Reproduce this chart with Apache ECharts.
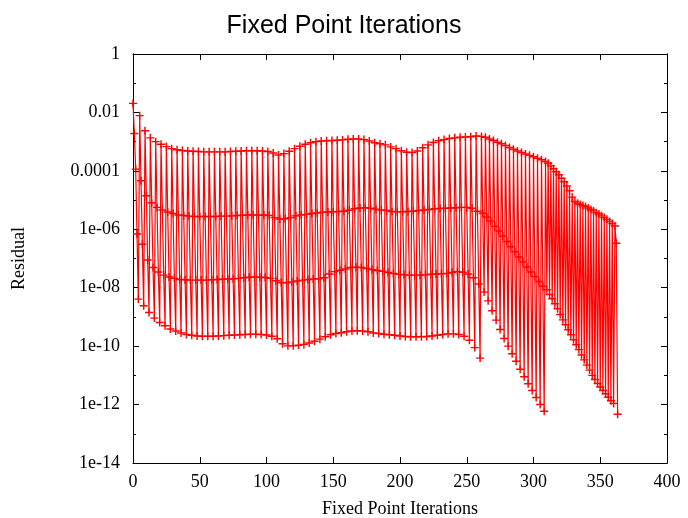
<!DOCTYPE html>
<html>
<head>
<meta charset="utf-8">
<script src="https://cdn.jsdelivr.net/npm/echarts@6/dist/echarts.min.js"></script>
<style>
  html, body { margin: 0; padding: 0; background: #fff; }
  #chart { width: 688px; height: 518px; }
</style>
</head>
<body>
<div id="chart"></div>
<script>
  // residuals stored as log10 values
  const firstBlock = [-1.69, -2.72, -3.94, -6.16, -8.39]

  // blocks of 4 iterations, starting at x = 5, 9, ..., 257
  const top4 = [
    -2.11, -2.63, -2.87, -3.00, -3.09, -3.17, -3.24, -3.28,
    -3.30, -3.32, -3.33, -3.34, -3.35, -3.35, -3.35, -3.35,
    -3.35, -3.34, -3.33, -3.32, -3.31, -3.31, -3.31, -3.32,
    -3.34, -3.39, -3.46, -3.41, -3.33, -3.24, -3.16, -3.09,
    -3.04, -3.00, -2.98, -2.97, -2.96, -2.95, -2.94, -2.92,
    -2.91, -2.91, -2.93, -2.98, -3.04, -3.07, -3.11, -3.18,
    -3.24, -3.31, -3.36, -3.37, -3.32, -3.21, -3.11, -3.03,
    -2.97, -2.93, -2.89, -2.87, -2.85, -2.84, -2.83, -2.81
  ]
  const second4 = [
    -4.34, -4.85, -5.09, -5.25, -5.34, -5.41, -5.46, -5.51,
    -5.53, -5.55, -5.56, -5.56, -5.56, -5.56, -5.56, -5.55,
    -5.55, -5.54, -5.53, -5.52, -5.51, -5.51, -5.51, -5.51,
    -5.53, -5.60, -5.65, -5.64, -5.60, -5.54, -5.51, -5.49,
    -5.46, -5.44, -5.42, -5.41, -5.40, -5.39, -5.38, -5.35,
    -5.30, -5.27, -5.26, -5.28, -5.31, -5.34, -5.36, -5.39,
    -5.40, -5.40, -5.39, -5.38, -5.36, -5.34, -5.32, -5.30,
    -5.29, -5.28, -5.27, -5.26, -5.25, -5.25, -5.28, -5.38
  ]
  const third4 = [
    -6.51, -7.05, -7.31, -7.46, -7.57, -7.63, -7.68, -7.72,
    -7.73, -7.74, -7.74, -7.74, -7.74, -7.73, -7.72, -7.71,
    -7.70, -7.69, -7.68, -7.66, -7.64, -7.63, -7.64, -7.65,
    -7.68, -7.76, -7.82, -7.83, -7.80, -7.77, -7.74, -7.72,
    -7.70, -7.69, -7.66, -7.53, -7.45, -7.40, -7.36, -7.31,
    -7.30, -7.31, -7.34, -7.38, -7.41, -7.44, -7.48, -7.51,
    -7.54, -7.56, -7.57, -7.57, -7.57, -7.56, -7.54, -7.53,
    -7.52, -7.51, -7.48, -7.45, -7.47, -7.53, -7.66, -7.87
  ]
  const last4 = [
    -8.62, -8.85, -9.04, -9.19, -9.30, -9.41, -9.48, -9.55,
    -9.60, -9.63, -9.65, -9.66, -9.66, -9.66, -9.65, -9.64,
    -9.63, -9.62, -9.61, -9.60, -9.59, -9.59, -9.60, -9.62,
    -9.66, -9.75, -9.92, -9.99, -9.99, -9.97, -9.94, -9.89,
    -9.83, -9.76, -9.68, -9.61, -9.57, -9.54, -9.51, -9.48,
    -9.47, -9.48, -9.51, -9.55, -9.57, -9.59, -9.61, -9.63,
    -9.65, -9.67, -9.68, -9.68, -9.68, -9.67, -9.65, -9.63,
    -9.60, -9.58, -9.58, -9.60, -9.66, -9.80, -10.05, -10.41
  ]

  // blocks of 3 iterations
  const top3 = [-2.82, -2.85, -2.91, -2.96, -3.02, -3.07, -3.13, -3.20,
    -3.26, -3.32, -3.37, -3.42, -3.47, -3.52, -3.57, -3.62]
  const second3 = [-5.45, -5.58, -5.72, -5.90, -6.06, -6.24, -6.42, -6.60,
    -6.77, -6.95, -7.12, -7.29, -7.46, -7.62, -7.79, -7.95]
  const last3 = [-8.15, -8.45, -8.79, -9.11, -9.43, -9.74, -10.00, -10.26,
    -10.52, -10.79, -11.05, -11.29, -11.52, -11.76, -12.00, -12.23]

  // blocks of 2 iterations
  const top2 = [-3.68, -3.74, -3.83, -3.93, -4.03, -4.13, -4.25, -4.37,
    -4.52, -4.68, -4.90, -5.05, -5.11, -5.15, -5.19, -5.22, -5.27, -5.32,
    -5.37, -5.43, -5.48, -5.54, -5.60, -5.66, -5.73, -5.80]
  const last2 = [-8.07, -8.23, -8.38, -8.55, -8.72, -8.92, -9.10, -9.27,
    -9.44, -9.61, -9.78, -9.95, -10.12, -10.30, -10.47, -10.65, -10.82, -11.00,
    -11.14, -11.28, -11.40, -11.52, -11.63, -11.75, -11.87, -11.96]

  const finalBlock = [-5.89, -6.48, -12.33]

  const yTickLabels = ['1e-14', '1e-12', '1e-10', '1e-08', '1e-06', '0.0001', '0.01', '1']

  // lay the iterations out one after another
  const blocks = [firstBlock]
  top4.forEach((v, i) => blocks.push([v, second4[i], third4[i], last4[i]]))
  top3.forEach((v, i) => blocks.push([v, second3[i], last3[i]]))
  top2.forEach((v, i) => blocks.push([v, last2[i]]))
  blocks.push(finalBlock)

  const points = []
  let it = 0
  blocks.forEach(b => {
    b.forEach(e => {
      points.push([it, Math.pow(10, e)])
      it++
    })
  })

  const plus = 'path://M0,4.1H4.1V0H5.9V4.1H10V5.9H5.9V10H4.1V5.9H0Z'
  const serif = '"Liberation Serif", "DejaVu Serif", serif'

  const logAxis = (pos, step, len, labels) => ({
    type: 'log',
    logBase: 10,
    position: pos,
    min: 1e-14,
    max: 1,
    interval: step,
    axisLine: { show: true, onZero: false, lineStyle: { color: '#000', width: 1 } },
    axisTick: { show: true, inside: true, length: len, lineStyle: { color: '#000' } },
    axisLabel: {
      show: labels,
      color: '#000',
      fontFamily: serif,
      fontSize: 18,
      margin: 13,
      formatter: v => yTickLabels[Math.round(Math.log10(v)) / 2 + 7]
    },
    splitLine: { show: false }
  })

  const linAxis = (pos, labels) => ({
    type: 'value',
    position: pos,
    min: 0,
    max: 400,
    interval: 50,
    axisLine: { show: true, onZero: false, lineStyle: { color: '#000', width: 1 } },
    axisTick: { show: true, inside: true, length: 6, lineStyle: { color: '#000' } },
    axisLabel: { show: labels, color: '#000', fontFamily: serif, fontSize: 18, margin: 10 },
    splitLine: { show: false }
  })

  const chart = echarts.init(document.getElementById('chart'))

  const yMain = logAxis('left', 2, 6, true)
  yMain.name = 'Residual'
  yMain.nameLocation = 'middle'
  yMain.nameGap = 105
  yMain.nameTextStyle = { color: '#000', fontFamily: serif, fontSize: 18 }

  const xMain = linAxis('bottom', true)
  xMain.name = 'Fixed Point Iterations'
  xMain.nameLocation = 'middle'
  xMain.nameGap = 37
  xMain.nameTextStyle = { color: '#000', fontFamily: serif, fontSize: 18 }

  const option = {
    animation: false,
    backgroundColor: '#fff',
    title: {
      text: 'Fixed Point Iterations',
      left: 'center',
      top: 9,
      textStyle: {
        fontFamily: '"Liberation Sans", Arial, sans-serif',
        fontWeight: 'normal',
        fontSize: 25,
        color: '#000'
      }
    },
    grid: { left: 133, right: 21, top: 54, bottom: 55, containLabel: false, outerBoundsMode: 'none' },
    xAxis: [xMain, linAxis('top', false)],
    yAxis: [
      yMain,
      logAxis('left', 1, 3, false),
      logAxis('right', 2, 6, false),
      logAxis('right', 1, 3, false)
    ],
    series: [
      {
        name: 'Residual',
        type: 'line',
        xAxisIndex: 0,
        yAxisIndex: 0,
        data: points,
        showSymbol: true,
        showAllSymbol: true,
        symbol: plus,
        symbolSize: 8,
        lineStyle: { color: '#ff0000', width: 1.2 },
        itemStyle: { color: '#ff0000', borderWidth: 0 }
      }
    ]
  }

  chart.setOption(option)
</script>
</body>
</html>
